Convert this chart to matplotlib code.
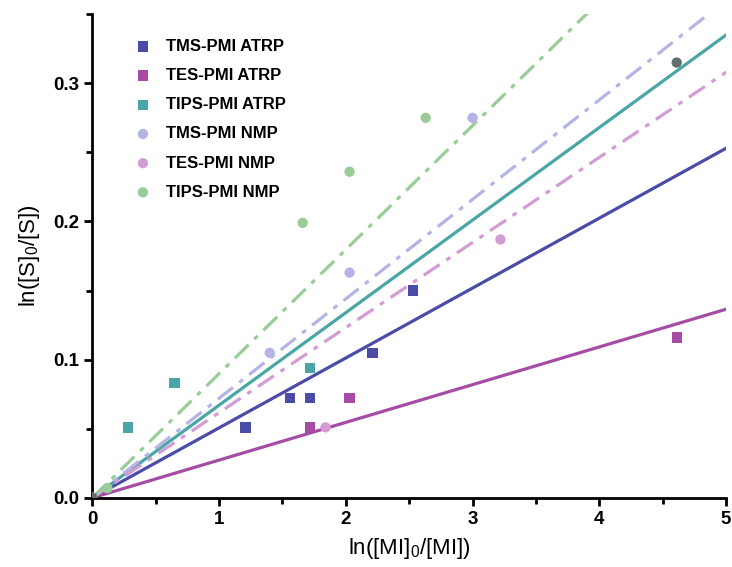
import matplotlib
matplotlib.use("Agg")
import matplotlib.pyplot as plt
from matplotlib.ticker import MultipleLocator

plt.rcParams['font.family'] = ['Liberation Sans', 'DejaVu Sans']
plt.rcParams['mathtext.fontset'] = 'custom'
plt.rcParams['mathtext.rm'] = 'Liberation Sans'

labels = ["TMS-PMI ATRP", "TES-PMI ATRP", "TIPS-PMI ATRP",
          "TMS-PMI NMP", "TES-PMI NMP", "TIPS-PMI NMP"]

# measured points
tms_atrp_x = [0, 1.21, 1.56, 1.72, 2.21, 2.53]
tms_atrp_y = [0, 0.051, 0.072, 0.072, 0.105, 0.150]
tes_atrp_x = [0, 1.72, 2.03, 4.61]
tes_atrp_y = [0, 0.051, 0.072, 0.116]
tips_atrp_x = [0, 0.28, 0.65, 1.72]
tips_atrp_y = [0, 0.051, 0.083, 0.094]
tms_nmp_x = [0, 1.40, 2.03, 3.00]
tms_nmp_y = [0, 0.105, 0.163, 0.275]
tes_nmp_x = [0, 1.84, 3.22]
tes_nmp_y = [0, 0.051, 0.187]
tips_nmp_x = [0, 0.12, 1.66, 2.03, 2.63]
tips_nmp_y = [0, 0.007, 0.199, 0.236, 0.275]
extra_x = [0, 4.61]
extra_y = [0, 0.315]

# fitted slopes (lines through origin)
slopes = [0.0506, 0.0273, 0.067, 0.072, 0.0616, 0.0898]

colors = ['#4b4ba8', '#a64ca6', '#4aa6a6', '#b4b4e6', '#d49cd4', '#99cc99']
markers = ['s', 's', 's', 'o', 'o', 'o']
styles = ['solid', 'solid', 'solid', 'dashdot', 'dashdot', 'dashdot']

xs = [tms_atrp_x, tes_atrp_x, tips_atrp_x, tms_nmp_x, tes_nmp_x, tips_nmp_x]
ys = [tms_atrp_y, tes_atrp_y, tips_atrp_y, tms_nmp_y, tes_nmp_y, tips_nmp_y]

fig = plt.figure(figsize=(7.32, 5.67), dpi=100)
ax = fig.add_axes([0.126, 0.122, 0.866, 0.853])

xfit = [0, 5]
for i in range(6):
    yfit = [s * slopes[i] for s in xfit]
    if styles[i] == 'solid':
        ax.plot(xfit, yfit, color=colors[i], lw=2.3, zorder=2)
    else:
        ax.plot(xfit, yfit, color=colors[i], lw=2.3, dashes=[6, 2.5, 1.5, 2.5], zorder=2)

for i in range(6):
    ax.scatter(xs[i], ys[i], marker=markers[i], s=55, color=colors[i],
               edgecolors='none', label=labels[i], zorder=3)
ax.scatter(extra_x, extra_y, marker='o', s=55, color='#5f6f6c', edgecolors='none', zorder=3)

ax.set_xlim(0, 5)
ax.set_ylim(0, 0.35)
ax.xaxis.set_major_locator(MultipleLocator(1))
ax.xaxis.set_minor_locator(MultipleLocator(0.5))
ax.yaxis.set_major_locator(MultipleLocator(0.1))
ax.yaxis.set_minor_locator(MultipleLocator(0.05))
ax.set_yticks([0, 0.1, 0.2, 0.3])
ax.set_yticklabels(['0.0', '0.1', '0.2', '0.3'])

for side in ['top', 'right']:
    ax.spines[side].set_visible(False)
for side in ['left', 'bottom']:
    ax.spines[side].set_linewidth(2)
ax.tick_params(which='major', length=6, width=2, labelsize=13.5)
ax.tick_params(which='minor', length=4, width=2)
for lab in ax.get_xticklabels() + ax.get_yticklabels():
    lab.set_fontweight('bold')

ax.set_xlabel(r'$\mathregular{ln([MI]_0/[MI])}$', fontsize=16, labelpad=6)
ax.set_ylabel(r'$\mathregular{ln([S]_0/[S])}$', fontsize=16, labelpad=8)

leg = ax.legend(loc='upper left', bbox_to_anchor=(0.03, 0.98), frameon=False,
                prop={'weight': 'bold', 'size': 12}, handletextpad=0.4,
                labelspacing=0.85, scatterpoints=1)

fig.savefig('out.png', dpi=100)
